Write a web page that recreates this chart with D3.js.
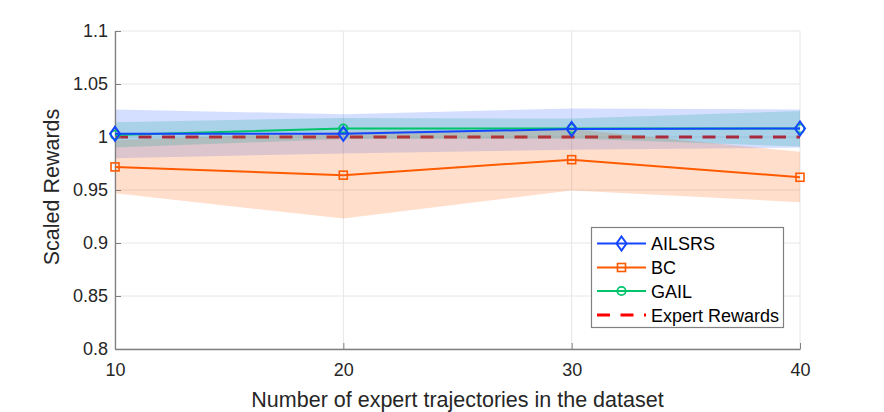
<!DOCTYPE html>
<html><head><meta charset="utf-8">
<script src="https://cdn.jsdelivr.net/npm/d3@7"></script>
<style>body{margin:0;background:#fff}svg{display:block;font-family:"Liberation Sans",Arial,sans-serif}</style>
</head><body>
<script>
const xValues = [10, 20, 30, 40];
const ailsrsMean = [1.003, 1.003, 1.0075, 1.008];
const ailsrsUpper = [1.026, 1.0215, 1.027, 1.026];
const ailsrsLower = [0.980, 0.9845, 0.988, 0.990];
const bcMean = [0.9718, 0.964, 0.9786, 0.962];
const bcUpper = [0.997, 1.005, 1.0076, 0.986];
const bcLower = [0.947, 0.923, 0.9496, 0.9385];
const gailMean = [1.002, 1.008, 1.008, 1.008];
const gailUpper = [1.014, 1.018, 1.0174, 1.0246];
const gailLower = [0.990, 0.998, 0.9986, 0.991];
const expertValue = [1, 1, 1, 1];
const yTicks = [0.8, 0.85, 0.9, 0.95, 1, 1.05, 1.1];
const yTickLabels = ["0.8", "0.85", "0.9", "0.95", "1", "1.05", "1.1"];
const legendLabels = ["AILSRS", "BC", "GAIL", "Expert Rewards"];

const W = 884, H = 412;
const svg = d3.select("body").append("svg").attr("width", W).attr("height", H);
const x = d3.scaleLinear().domain([10, 40]).range([115, 800]);
const y = d3.scaleLinear().domain([0.8, 1.1]).range([349, 31]);

const colBlue = "#1446ff", colOrange = "#ff5a00", colGreen = "#00c46a", colRed = "#ff0000";

// grid
const g = svg.append("g");
g.selectAll(".gy").data(yTicks).join("line")
  .attr("x1", x(10)).attr("x2", x(40)).attr("y1", d => y(d)).attr("y2", d => y(d))
  .attr("stroke", "#e6e6e6").attr("stroke-width", 1);
g.selectAll(".gx").data(xValues).join("line")
  .attr("x1", d => x(d)).attr("x2", d => x(d)).attr("y1", y(0.8)).attr("y2", y(1.1))
  .attr("stroke", "#e6e6e6").attr("stroke-width", 1);

// expert dashed line (under bands)
const lineGen = arr => d3.line().x((d, i) => x(xValues[i])).y(d => y(d))(arr);
svg.append("path").attr("d", lineGen(expertValue)).attr("fill", "none")
  .attr("stroke", colRed).attr("stroke-width", 3).attr("stroke-dasharray", "13,10.5");

// bands
const area = (lo, hi) => d3.area().x((d, i) => x(xValues[i])).y0((d, i) => y(lo[i])).y1((d, i) => y(hi[i]))(lo);
svg.append("path").attr("d", area(ailsrsLower, ailsrsUpper)).attr("fill", "#0040ff").attr("fill-opacity", 0.17);
svg.append("path").attr("d", area(bcLower, bcUpper)).attr("fill", "#ff6000").attr("fill-opacity", 0.2);
svg.append("path").attr("d", area(gailLower, gailUpper)).attr("fill", "#00a08c").attr("fill-opacity", 0.2);

// axes
const axL = svg.append("g").attr("transform", `translate(${x(10)},0)`)
  .call(d3.axisLeft(y).tickValues(yTicks).tickFormat((d, i) => yTickLabels[i]).tickSizeInner(-6).tickSizeOuter(0).tickPadding(7));
const axB = svg.append("g").attr("transform", `translate(0,${y(0.8)})`)
  .call(d3.axisBottom(x).tickValues(xValues).tickFormat(d3.format("d")).tickSizeInner(-6).tickSizeOuter(0).tickPadding(14));
[axL, axB].forEach(a => {
  a.select(".domain").attr("stroke", "#808080").attr("stroke-width", 1.3);
  a.selectAll(".tick line").attr("stroke", "#808080");
  a.selectAll("text").attr("fill", "#262626").style("font-size", "18px").style("font-family", "Liberation Sans, Arial, sans-serif");
});

// series lines
function series(mean, color, marker) {
  svg.append("path").attr("d", lineGen(mean)).attr("fill", "none").attr("stroke", color).attr("stroke-width", 2);
  mean.forEach((v, i) => drawMarker(x(xValues[i]), y(v), color, marker));
}
function drawMarker(cx, cy, color, marker) {
  if (marker === "diamond") {
    svg.append("path").attr("d", `M${cx},${cy-7}L${cx+5},${cy}L${cx},${cy+7}L${cx-5},${cy}Z`)
      .attr("fill", "none").attr("stroke", color).attr("stroke-width", 2);
  } else if (marker === "square") {
    svg.append("rect").attr("x", cx-4).attr("y", cy-4).attr("width", 8).attr("height", 8)
      .attr("fill", "none").attr("stroke", color).attr("stroke-width", 1.6);
  } else {
    svg.append("circle").attr("cx", cx).attr("cy", cy).attr("r", 4.2)
      .attr("fill", "none").attr("stroke", color).attr("stroke-width", 1.8);
  }
}
series(gailMean, colGreen, "circle");
series(bcMean, colOrange, "square");
series(ailsrsMean, colBlue, "diamond");

// labels
svg.append("text").attr("x", x(25)).attr("y", 407).attr("text-anchor", "middle")
  .attr("fill", "#262626").style("font-size", "21.5px").text("Number of expert trajectories in the dataset");
svg.append("text").attr("transform", `translate(59,187) rotate(-90)`).attr("text-anchor", "middle")
  .attr("fill", "#262626").style("font-size", "21.5px").text("Scaled Rewards");

// legend
const lg = svg.append("g");
lg.append("rect").attr("x", 591.5).attr("y", 227.5).attr("width", 192).attr("height", 100)
  .attr("fill", "#fff").attr("stroke", "#808080").attr("stroke-width", 1.2);
const legCols = [colBlue, colOrange, colGreen, colRed];
const legMarkers = ["diamond", "square", "circle", null];
const rowY = [243.5, 267.5, 291, 315];
legendLabels.forEach((lab, i) => {
  const yy = rowY[i];
  if (i < 3) {
    lg.append("line").attr("x1", 597).attr("x2", 646).attr("y1", yy).attr("y2", yy).attr("stroke", legCols[i]).attr("stroke-width", 2);
    drawMarker(621.5, yy, legCols[i], legMarkers[i]);
  } else {
    lg.append("line").attr("x1", 597).attr("x2", 646).attr("y1", yy).attr("y2", yy).attr("stroke", colRed)
      .attr("stroke-width", 3).attr("stroke-dasharray", "13,10.5");
  }
  lg.append("text").attr("x", 651).attr("y", yy + 6.5).attr("fill", "#000")
    .style("font-size", "18px").text(lab);
});
</script>
</body></html>
